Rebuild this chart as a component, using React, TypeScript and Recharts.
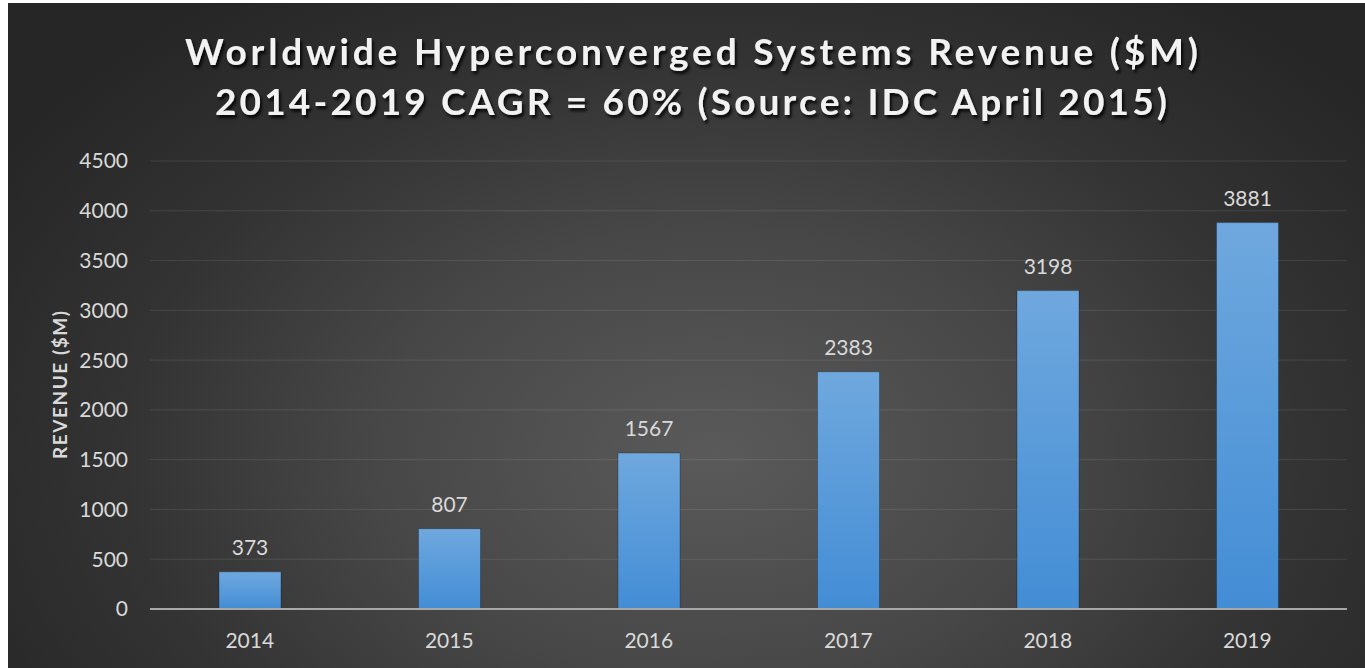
import React from "react";
import { BarChart, Bar, XAxis, YAxis, CartesianGrid, LabelList } from "recharts";

const years = ["2014", "2015", "2016", "2017", "2018", "2019"];
const revenue = [373, 807, 1567, 2383, 3198, 3881];
const yTicks = [0, 500, 1000, 1500, 2000, 2500, 3000, 3500, 4000, 4500];
const titleLine1 = "Worldwide Hyperconverged Systems Revenue ($M)";
const titleLine2 = "2014-2019 CAGR = 60% (Source: IDC April 2015)";
const yAxisTitle = "REVENUE ($M)";

const data = years.map((y, i) => ({ year: y, revenue: revenue[i] }));

const W = 1357;
const H = 665;
const FONT = "Lato, 'Open Sans', sans-serif";
const TXT = "#d9d9d9";

const YLabel = (props: any) => {
  const vb = props.viewBox || {};
  const cy = (vb.y ?? 0) + (vb.height ?? 0) / 2;
  const cx = 51;
  return (
    <text
      x={cx}
      y={cy}
      transform={`rotate(-90 ${cx} ${cy})`}
      textAnchor="middle"
      dominantBaseline="central"
      fill={TXT}
      fontFamily={FONT}
      fontWeight={700}
      fontSize={19}
      textLength={148}
      lengthAdjust="spacing"
    >
      {yAxisTitle}
    </text>
  );
};

export default function App() {
  return (
    <div
      style={{
        position: "absolute",
        left: 8,
        top: 3,
        width: W,
        height: H,
        background:
          "radial-gradient(ellipse 62% 85% at 52% 68%, #5a5a5a 0%, #474747 40%, #333333 70%, #262626 100%)",
        overflow: "hidden",
      }}
    >
      <BarChart
        width={W}
        height={H}
        data={data}
        margin={{ top: 158, right: 18, bottom: 19, left: 0 }}
      >
        <defs>
          <linearGradient id="barGrad" x1="0" y1="0" x2="0" y2="1">
            <stop offset="0%" stopColor="#6fa8de" />
            <stop offset="100%" stopColor="#438dd5" />
          </linearGradient>
        </defs>
        <CartesianGrid
          vertical={false}
          stroke="#ffffff"
          strokeOpacity={0.1}
          strokeWidth={1}
        />
        <XAxis
          dataKey="year"
          height={40}
          tickLine={false}
          tickSize={0}
          tickMargin={24}
          axisLine={{ stroke: "#a8a8a8", strokeWidth: 2 }}
          tick={{ fill: TXT, fontSize: 21, fontFamily: FONT }}
        />
        <YAxis
          width={142}
          domain={[0, 4500]}
          ticks={yTicks}
          interval={0}
          axisLine={false}
          tickLine={false}
          tickSize={0}
          tickMargin={22}
          tick={{ fill: TXT, fontSize: 21, fontFamily: FONT }}
          label={<YLabel />}
        />
        <Bar
          dataKey="revenue"
          fill="url(#barGrad)"
          barSize={62}
          stroke="rgba(0,0,0,0.25)"
          strokeWidth={1}
          isAnimationActive={false}
        >
          <LabelList
            dataKey="revenue"
            position="top"
            offset={17}
            fill={TXT}
            fontSize={21}
            fontFamily={FONT}
          />
        </Bar>
      </BarChart>
      <svg
        width={W}
        height={140}
        style={{ position: "absolute", left: 0, top: 0, pointerEvents: "none" }}
      >
        <defs>
          <filter id="tshadow" x="-5%" y="-30%" width="110%" height="160%">
            <feDropShadow dx="2" dy="3" stdDeviation="1.8" floodColor="#000" floodOpacity="0.85" />
          </filter>
        </defs>
        <g filter="url(#tshadow)" fill="#f2f2f2" fontFamily={FONT} fontWeight={700} fontSize={37}>
          <text x={177} y={62} textLength={1013} lengthAdjust="spacing">
            {titleLine1}
          </text>
          <text x={207} y={112} textLength={952} lengthAdjust="spacing">
            {titleLine2}
          </text>
        </g>
      </svg>
    </div>
  );
}
